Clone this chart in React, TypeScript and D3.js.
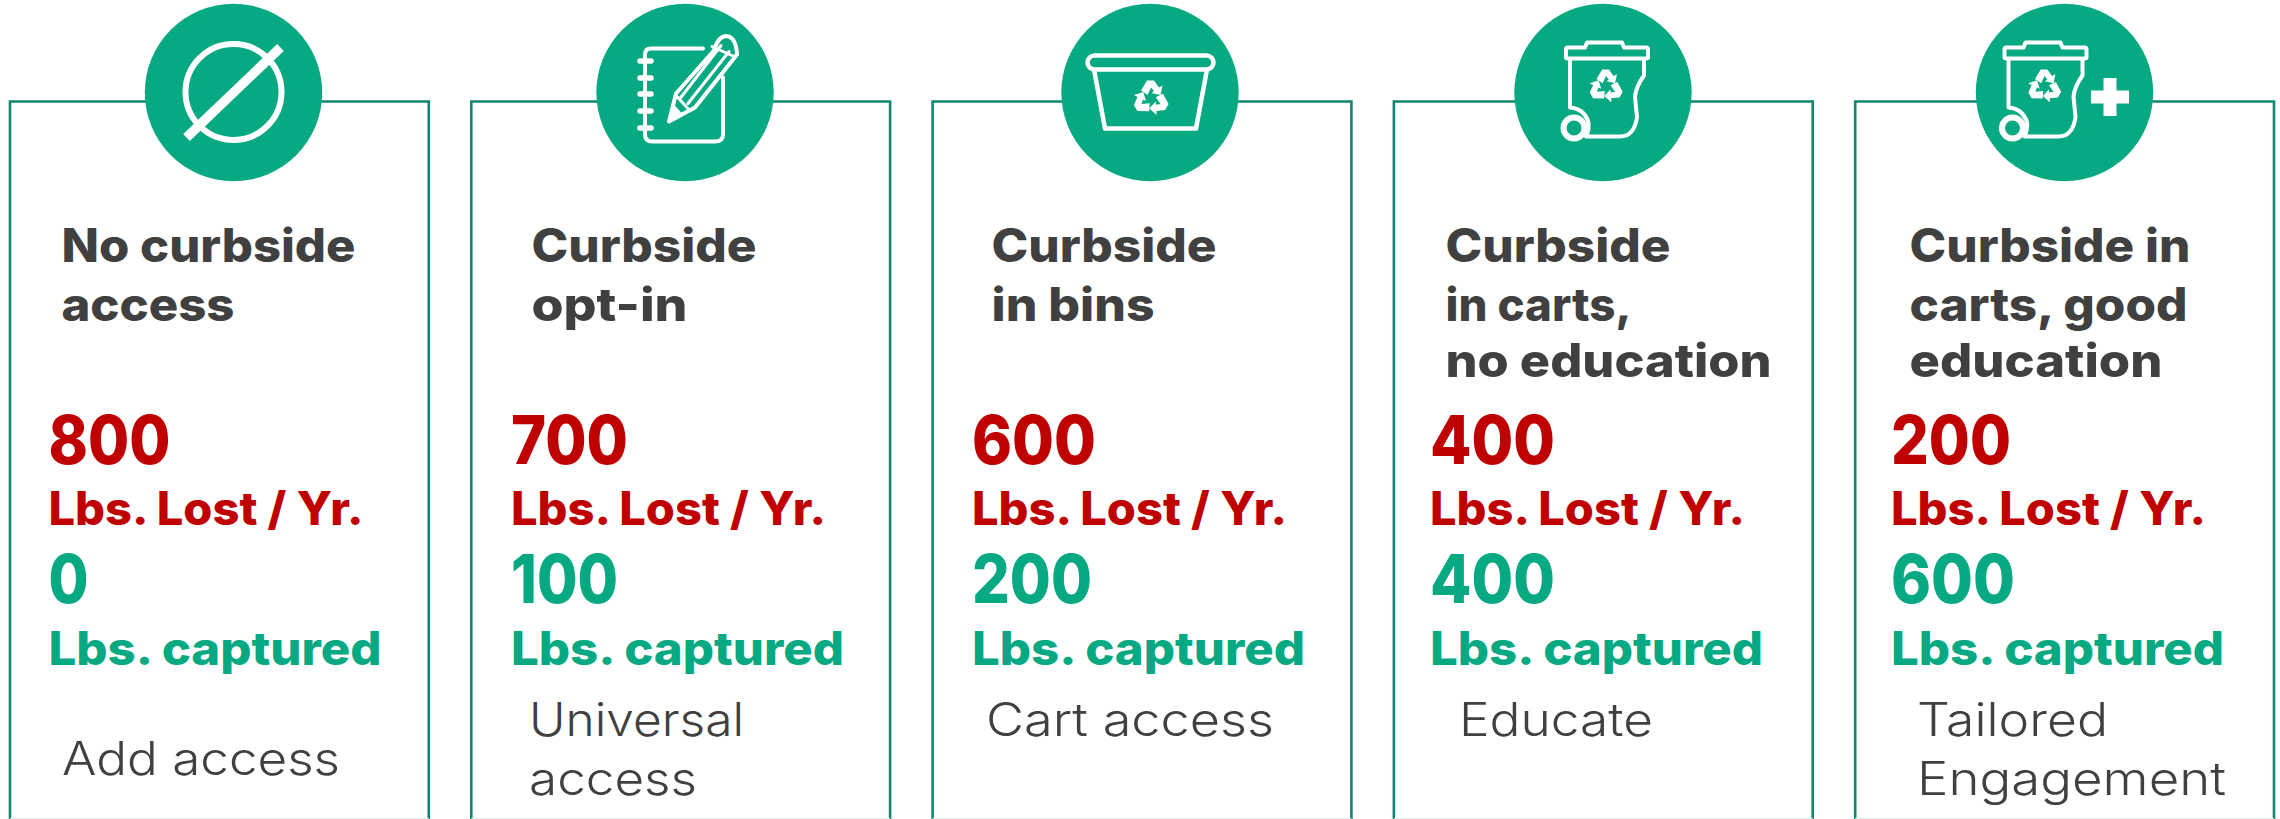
import React from "react";
import * as d3 from "d3";

const categories = ["No curbside access", "Curbside opt-in", "Curbside in bins", "Curbside in carts, no education", "Curbside in carts, good education"];
const headingLines = [["No curbside", "access"], ["Curbside", "opt-in"], ["Curbside", "in bins"], ["Curbside", "in carts,", "no education"], ["Curbside in", "carts, good", "education"]];
const lostValues = [800, 700, 600, 400, 200];
const capturedValues = [0, 100, 200, 400, 600];
const actionLines = [["Add access"], ["Universal", "access"], ["Cart access"], ["Educate"], ["Tailored", "Engagement"]];
const lostLabel = "Lbs. Lost / Yr.";
const capturedLabel = "Lbs. captured";

const W = 2280, H = 819;
const GREEN = "#06A982", BORDER = "#0F8572", RED = "#C00000", DARK = "#404040";
const FONT = "Inter, 'Open Sans', sans-serif";

const circleCx = [233.5, 685, 1150, 1603, 2064.5];
const headingX = [61.5, 531.5, 991.5, 1445.5, 1909.5];
const valueX = [48.5, 511, 972, 1430, 1891];
const actionX = [62, 529, 986, 1459, 1917];
const actionY = [[775], [736, 795], [736], [736], [736, 795]];

const widths: Record<string, number> = {
  "No curbside": 294, "access": 173, "Curbside": 225, "opt-in": 156, "in bins": 163,
  "in carts,": 186, "no education": 326, "Curbside in": 281, "carts, good": 278, "education": 253,
};
const actionWidths: Record<string, number> = {
  "Add access": 278, "Universal": 215, "access": 168, "Cart access": 288, "Educate": 194, "Tailored": 191, "Engagement": 309,
};
const numWidths: Record<string, number> = { "800": 122, "700": 117, "600": 124, "400": 125, "200": 120, "100": 107, "0": 40 };

const xBox = d3.scaleBand<string>().domain(categories).range([10, 2274]).paddingInner(42.5 / 461.5).paddingOuter(0);

function Recycle({ x, y, s = 1 }: { x: number; y: number; s?: number }) {
  const arrow = "M-10,-8 L-4,-18 L3,-18 L8,-11 L11.5,-13 L9.5,-3.5 L0.5,-5.5 L3,-7.5 L0,-11 L-3.5,-3.5 Z";
  return (
    <g transform={`translate(${x},${y}) scale(${s})`} fill="#fff">
      {[0, 120, 240].map((r) => <path key={r} d={arrow} transform={`rotate(${r})`} />)}
    </g>
  );
}

function NoIcon() {
  return (
    <g fill="none" stroke="#fff">
      <circle r={48} strokeWidth={6} cy={-0.5} />
      <line x1={47} y1={-45} x2={-47} y2={45} strokeWidth={9.5} />
    </g>
  );
}

function NotebookIcon() {
  return (
    <g fill="none" stroke="#fff" strokeLinecap="round" strokeLinejoin="round" strokeWidth={4}>
      <path d="M18,-44 L-34,-44 Q-40,-44 -40,-38 L-40,42 Q-40,49 -33,49 L30,49 Q38,49 38,42 L38,-15" />
      {[-31.5, -14.5, 1.5, 18.5, 35.5].map((y) => <line key={y} x1={-45} x2={-34} y1={y} y2={y} strokeWidth={5.5} />)}
      <path d="M-16,29 L-9,1 L29,-42 Q33,-56 41,-56.5 Q51,-56 52,-38 L10,15 Z" />
      <path d="M-5,6 L36,-47 M3,11 L44,-41 M-9,3 L3,16 M27,-46 L49,-36" strokeWidth={3} />
      <path d="M-16,29 L-12,12 L-4,21 Z" fill="#fff" strokeWidth={1.5} />
    </g>
  );
}

function BinIcon() {
  return (
    <g>
      <g fill="none" stroke="#fff" strokeWidth={4.5} strokeLinejoin="round">
        <rect x={-62.5} y={-37} width={126} height={14} rx={7} />
        <path d="M-56,-23 L-45,36 L46,36 L57,-23" />
      </g>
      <Recycle x={1} y={6} s={1} />
    </g>
  );
}

function CartIcon({ dx = 0 }: { dx?: number }) {
  return (
    <g transform={`translate(${dx},0)`}>
      <g fill="none" stroke="#fff" strokeWidth={4} strokeLinejoin="round">
        <path d="M-18,-45 L-16,-50 L19,-50 L21,-45 L43,-45 Q45,-45 45,-43 L45,-35 Q45,-34 43,-34 L-35,-34 Q-37,-34 -37,-35 L-37,-43 Q-37,-45 -35,-45 Z" />
        <path d="M-33,-34 L-33,15 Q-20,16 -15,28 Q-13,36 -17,44 L17,44 Q31,44 34,25 L32,4 Q33,-6 41,-17 L41,-34" />
      </g>
      <circle cx={-29} cy={35.5} r={10.5} fill="none" stroke="#fff" strokeWidth={6} />
      <Recycle x={3} y={-6} s={0.95} />
    </g>
  );
}

function Icon({ i }: { i: number }) {
  if (i === 0) return <NoIcon />;
  if (i === 1) return <NotebookIcon />;
  if (i === 2) return <BinIcon />;
  if (i === 3) return <CartIcon />;
  return (
    <g>
      <CartIcon dx={-23} />
      <path d="M-6.5,-19 H6.5 V-6.5 H19 V6.5 H6.5 V19 H-6.5 V6.5 H-19 V-6.5 H-6.5 Z" fill="#fff" transform="translate(45.5,4.5)" />
    </g>
  );
}

function Fit({ x, y, size, weight, fill, w, children }: any) {
  return (
    <text x={x} y={y} fontSize={size} fontWeight={weight} fill={fill} fontFamily={FONT} textLength={w} lengthAdjust="spacingAndGlyphs">
      {children}
    </text>
  );
}

export default function App() {
  return (
    <svg width={W} height={H} viewBox={`0 0 ${W} ${H}`} style={{ position: "absolute", left: 0, top: 0, background: "#fff" }}>
      {categories.map((c, i) => {
        const bx = xBox(c)!, bw = xBox.bandwidth();
        return (
          <g key={c}>
            <path d={`M${bx},819 V101.5 H${bx + bw} V819`} fill="none" stroke={BORDER} strokeWidth={2.6} />
            <line x1={bx} x2={bx + bw} y1={818.5} y2={818.5} stroke="#DCEFEA" strokeWidth={1} />
            <g transform={`translate(${circleCx[i]},92.5)`}>
              <circle r={88.7} fill={GREEN} />
              <Icon i={i} />
            </g>
            {headingLines[i].map((t, k) => (
              <Fit key={t} x={headingX[i]} y={[262, 321, 377][k]} size={46} weight={800} fill={DARK} w={widths[t]}>{t}</Fit>
            ))}
            <Fit x={valueX[i]} y={464} size={67} weight={800} fill={RED} w={numWidths[String(lostValues[i])]}>{lostValues[i]}</Fit>
            <Fit x={valueX[i]} y={525} size={46} weight={800} fill={RED} w={315}>{lostLabel}</Fit>
            <Fit x={valueX[i]} y={603} size={67} weight={800} fill={GREEN} w={numWidths[String(capturedValues[i])]}>{capturedValues[i]}</Fit>
            <Fit x={valueX[i]} y={665} size={46} weight={800} fill={GREEN} w={333}>{capturedLabel}</Fit>
            {actionLines[i].map((t, k) => (
              <Fit key={t} x={actionX[i]} y={actionY[i][k]} size={46} weight={300} fill={DARK} w={actionWidths[t]}>{t}</Fit>
            ))}
          </g>
        );
      })}
    </svg>
  );
}
